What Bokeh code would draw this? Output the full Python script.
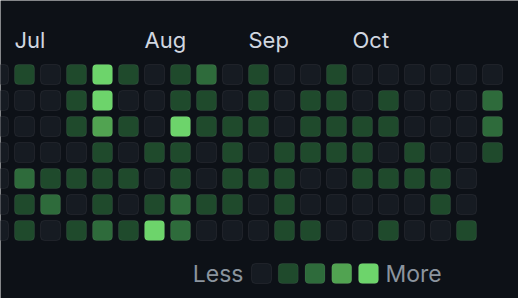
from bokeh.plotting import figure
from bokeh.models import Range1d, ColumnDataSource
from bokeh.core.properties import value
from bokeh.embed import file_html
from bokeh.resources import INLINE

# contribution levels per week (column), rows Sun..Sat; None = no cell
weeks = [
    [0, 0, 0, 0, 0, 0, 0],
    [1, 0, 0, 0, 2, 1, 1],
    [0, 0, 0, 0, 1, 2, 0],
    [1, 1, 1, 0, 1, 0, 1],
    [4, 4, 3, 1, 1, 1, 2],
    [1, 0, 1, 0, 1, 0, 1],
    [0, 0, 0, 1, 0, 1, 4],
    [1, 1, 4, 1, 1, 2, 2],
    [2, 1, 1, 0, 0, 1, 0],
    [0, 0, 1, 1, 1, 1, 0],
    [1, 1, 1, 0, 1, 0, 0],
    [0, 0, 0, 1, 1, 1, 1],
    [0, 1, 1, 1, 0, 0, 1],
    [1, 1, 1, 1, 0, 0, 0],
    [0, 0, 1, 1, 1, 0, 0],
    [0, 1, 1, 0, 1, 0, 1],
    [0, 0, 0, 1, 1, 0, 0],
    [0, 0, 0, 0, 1, 1, 0],
    [0, 0, 0, 0, 0, 0, 1],
    [0, 2, 2, 1, None, None, None],
]
month_labels = ["Jul", "Aug", "Sep", "Oct"]
month_weeks = [1, 6, 10, 14]
level_colors = ["#161b22", "#1f4a2c", "#2e6b3b", "#51a351", "#6dd46b"]
legend_less = "Less"
legend_more = "More"

BG = "#0d1117"
PITCH = 26.0
HALF = 10.0 / PITCH

# pixel -> data helpers (layout only)
X0 = 2.0 / PITCH
Y0 = -74.0 / PITCH
def dx(px):
    return px / PITCH + X0
def dy(py):
    return py / PITCH + Y0

p = figure(width=518, height=298, output_backend="svg", toolbar_location=None,
           x_range=Range1d(X0, X0 + 518 / PITCH),
           y_range=Range1d(Y0 + 298 / PITCH, Y0),
           min_border=0, outline_line_color=None,
           background_fill_color=BG, border_fill_color=BG)
p.axis.visible = False
p.grid.visible = False

xs, ys, cols = [], [], []
for c, wk in enumerate(weeks):
    for r, lv in enumerate(wk):
        if lv is None:
            continue
        xs.append(c)
        ys.append(r)
        cols.append(level_colors[lv])
src = ColumnDataSource(dict(
    left=[x - HALF for x in xs], right=[x + HALF for x in xs],
    top=[y - HALF for y in ys], bottom=[y + HALF for y in ys], color=cols))
p.quad(left="left", right="right", top="top", bottom="bottom", source=src,
       fill_color="color", line_color="#ffffff", line_alpha=0.06, line_width=1,
       border_radius=4)

# month labels
p.text(x=[m - HALF for m in month_weeks], y=[dy(39)] * len(month_weeks), text=month_labels,
       text_font=value("Inter"), text_font_size="22px", text_color="#d1d7e0",
       text_align="left", text_baseline="alphabetic")

# legend
lx = [261 + 26.75 * i for i in range(len(level_colors))]
ly = 273
lsrc = ColumnDataSource(dict(
    left=[dx(x - 10) for x in lx], right=[dx(x + 10) for x in lx],
    top=[dy(ly - 10)] * len(lx), bottom=[dy(ly + 10)] * len(lx), color=level_colors))
p.quad(left="left", right="right", top="top", bottom="bottom", source=lsrc,
       fill_color="color", line_color="#ffffff", line_alpha=0.06, line_width=1,
       border_radius=4)
p.text(x=[dx(243)], y=[dy(273)], text=[legend_less], text_font=value("Inter"),
       text_font_size="23px", text_color="#8b949e", text_align="right",
       text_baseline="alphabetic")
p.text(x=[dx(385)], y=[dy(273)], text=[legend_more], text_font=value("Inter"),
       text_font_size="23px", text_color="#8b949e", text_align="left",
       text_baseline="alphabetic")

open("out.html", "w").write(file_html(p, INLINE))
